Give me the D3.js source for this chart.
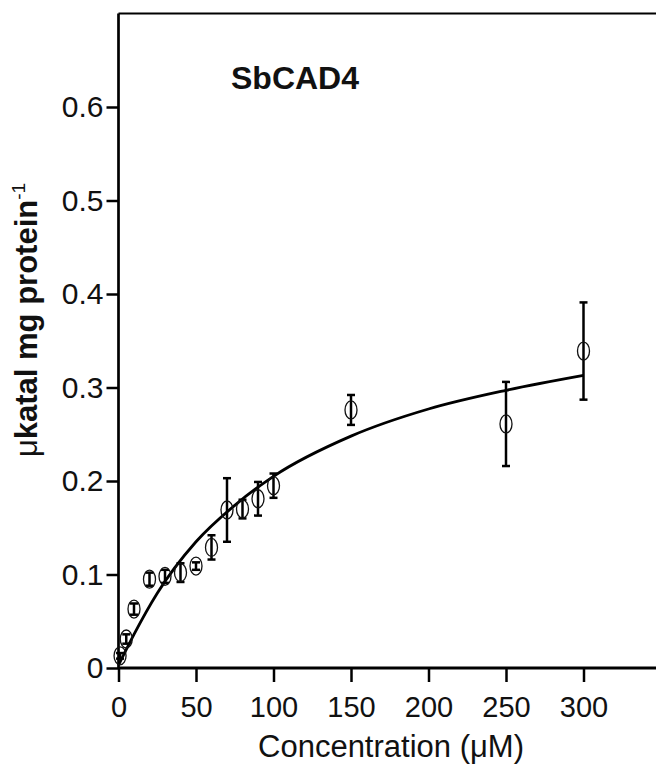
<html>
<head>
<meta charset="utf-8">
<script src="https://d3js.org/d3.v7.min.js"></script>
<style>
body { margin: 0; background: #fff; }
text { font-family: "Liberation Sans", Arial, sans-serif; fill: #111; }
</style>
</head>
<body>
<div id="chart"></div>
<script>
// concentration (uM), activity, and error
var conc = [1, 5, 10, 20, 30, 40, 50, 60, 70, 80, 90, 100, 150, 250, 300];
var activity = [0.013, 0.031, 0.063, 0.095, 0.098, 0.102, 0.109, 0.129, 0.169, 0.170, 0.181, 0.195, 0.276, 0.261, 0.339];
var err = [0.003, 0.005, 0.006, 0.007, 0.007, 0.010, 0.004, 0.013, 0.034, 0.010, 0.018, 0.013, 0.016, 0.045, 0.052];

// fitted curve, points
var fitX = [0, 10, 25, 50, 75, 100, 150, 200, 250, 300];
var fitY = [0.003, 0.036, 0.080, 0.135, 0.174, 0.205, 0.248, 0.277, 0.297, 0.313];

var xTicks = [0, 50, 100, 150, 200, 250, 300];
var yTicks = [0, 0.1, 0.2, 0.3, 0.4, 0.5, 0.6];

const w = 656;
const h = 767;

const svg = d3.select("#chart")
  .append("svg")
  .attr("width", w)
  .attr("height", h);

const xscale = d3.scaleLinear()
  .domain([0, 350])
  .range([118.5, 661]);
const yscale = d3.scaleLinear()
  .domain([0, 0.7])
  .range([668, 13.5]);

// frame: top line + left axis line
svg.append("line")
  .attr("x1", xscale(0)).attr("x2", w)
  .attr("y1", yscale(0.7)).attr("y2", yscale(0.7))
  .attr("stroke", "#000").attr("stroke-width", 2);

const xaxis = d3.axisBottom(xscale).tickValues(xTicks).tickSize(14).tickPadding(14).tickFormat(d3.format("d"));
const gx = svg.append("g")
  .attr("transform", "translate(0," + yscale(0) + ")")
  .call(xaxis);
gx.select(".domain").attr("d", "M" + xscale(0) + ",0H" + w).attr("stroke-width", 3);
gx.selectAll(".tick line").attr("stroke-width", 2.5);
gx.selectAll(".tick text").attr("font-size", 29).attr("font-family", "Liberation Sans, Arial, sans-serif").attr("fill", "#111");

const yaxis = d3.axisLeft(yscale).tickValues(yTicks).tickSize(12).tickPadding(3)
  .tickFormat(d => d === 0 ? "0" : d3.format(".1f")(d));
const gy = svg.append("g")
  .attr("transform", "translate(" + xscale(0) + ",0)")
  .call(yaxis);
gy.select(".domain").attr("d", "M0," + yscale(0.7) + "V" + yscale(0)).attr("stroke-width", 2.7);
gy.selectAll(".tick line").attr("stroke-width", 2.5);
gy.selectAll(".tick text").attr("font-size", 30).attr("font-family", "Liberation Sans, Arial, sans-serif").attr("fill", "#111");

// fitted line
const line = d3.line()
  .x((d, i) => xscale(fitX[i]))
  .y((d, i) => yscale(fitY[i]))
  .curve(d3.curveMonotoneX);
svg.append("path")
  .datum(fitX)
  .attr("d", line)
  .attr("fill", "none")
  .attr("stroke", "#000")
  .attr("stroke-width", 2.8);

// error bars
const pts = conc.map((c, i) => ({ x: c, y: activity[i], e: err[i] }));
const eb = svg.append("g").attr("stroke", "#000").attr("stroke-width", 2.5);
eb.selectAll(".v").data(pts).enter().append("line")
  .attr("x1", d => xscale(d.x)).attr("x2", d => xscale(d.x))
  .attr("y1", d => yscale(d.y + d.e)).attr("y2", d => yscale(d.y - d.e));
eb.selectAll(".t").data(pts).enter().append("line")
  .attr("x1", d => xscale(d.x) - 4).attr("x2", d => xscale(d.x) + 4)
  .attr("y1", d => yscale(d.y + d.e)).attr("y2", d => yscale(d.y + d.e));
eb.selectAll(".b").data(pts).enter().append("line")
  .attr("x1", d => xscale(d.x) - 4).attr("x2", d => xscale(d.x) + 4)
  .attr("y1", d => yscale(d.y - d.e)).attr("y2", d => yscale(d.y - d.e));

// open ellipse markers
svg.selectAll("ellipse")
  .data(pts)
  .enter()
  .append("ellipse")
  .attr("cx", d => xscale(d.x))
  .attr("cy", d => yscale(d.y))
  .attr("rx", 6)
  .attr("ry", 9)
  .attr("fill", "none")
  .attr("stroke", "#111")
  .attr("stroke-width", 1.3);

// title
svg.append("text")
  .attr("x", 231).attr("y", 89)
  .attr("font-size", 32).attr("font-weight", "bold")
  .text("SbCAD4");

// x label
svg.append("text")
  .attr("x", 391).attr("y", 757)
  .attr("text-anchor", "middle")
  .attr("font-size", 31)
  .text("Concentration (\u03bcM)");

// y label
const yl = svg.append("text")
  .attr("transform", "translate(37,320) rotate(-90)")
  .attr("text-anchor", "middle")
  .attr("font-size", 31);
yl.append("tspan").text("\u03bc");
yl.append("tspan").attr("font-weight", "bold").text("katal mg protein");
yl.append("tspan").attr("font-size", 19).attr("dy", -12).text("-1");
</script>
</body>
</html>
